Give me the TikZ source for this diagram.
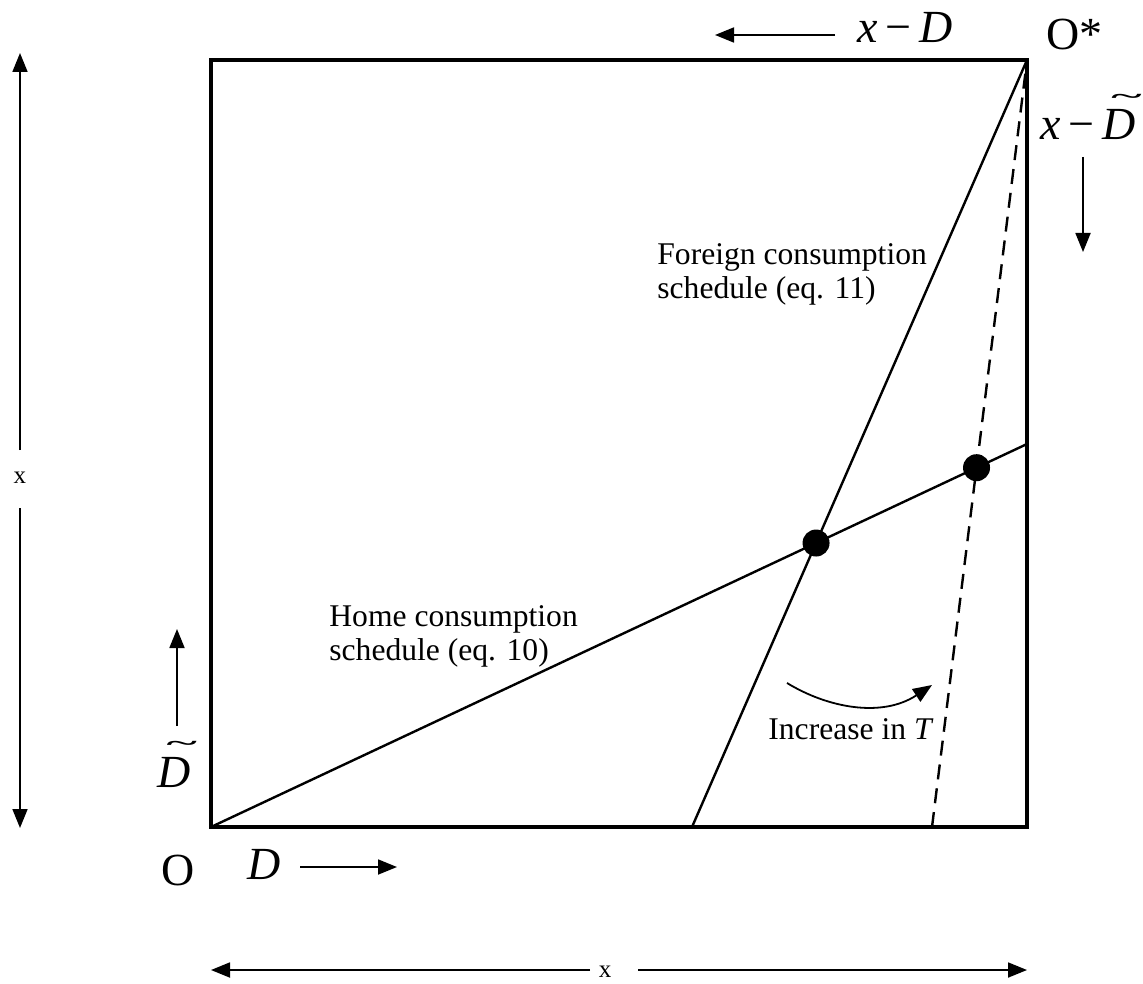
\documentclass[tikz,border=0pt]{standalone}
\usepackage{fontspec}
\usepackage{graphicx}
\setmainfont{Liberation Serif}
\usetikzlibrary{arrows.meta,intersections}
\newcommand{\Dtil}{\leavevmode\rlap{\kern0.2em\raisebox{0.80em}{\resizebox{0.66em}{0.2em}{\bfseries\char"7E}}}{\itshape D}}
\begin{document}
\begin{tikzpicture}[x=0.5pt,y=-0.5pt,
  boxline/.style={line width=1.6pt},
  schedline/.style={line width=1.2pt},
  shiftline/.style={line width=1.2pt,dash pattern=on 7.5pt off 4.5pt},
  pointer/.style={line width=0.9pt,-{Triangle[length=9.5pt,width=7.5pt]}},
  dot/.style={circle,fill=black,inner sep=0pt,minimum size=13.5pt},
  bodytext/.style={inner sep=0pt,anchor=base west,font=\fontsize{15.8}{17}\selectfont},
  mathtext/.style={inner sep=0pt,anchor=base west,font=\fontsize{23}{25}\selectfont},
  origtext/.style={inner sep=0pt,anchor=base west,font=\fontsize{23}{25}\selectfont},
  smalltext/.style={inner sep=0pt,font=\fontsize{12.5}{13}\selectfont}]
\useasboundingbox (0,0) rectangle (1143,983);
% corners
\coordinate (O) at (211,827);
\coordinate (BR) at (1027,827);
\coordinate (Os) at (1027,60);
\coordinate (TL) at (211,60);
\coordinate (Hend) at (1027,444);
\coordinate (Fstart) at (692,827);
\coordinate (Nstart) at (932,827);
% box
\draw[boxline] (O) -- (BR) -- (Os) -- (TL) -- cycle;
% schedules
\draw[schedline,name path=home] (O) -- (Hend);
\draw[schedline,name path=foreign] (Fstart) -- (Os);
\draw[shiftline,name path=newf] (Nstart) -- (Os);
\path[name intersections={of=home and foreign,by=E1}];
\path[name intersections={of=home and newf,by=E2}];
\node[dot] (e1) at (E1) {};
\node[dot] (e2) at (E2) {};
% text labels
\node[bodytext] (f1) at (657,265) {Foreign consumption};
\node[bodytext] (f2) at (657,299) {schedule (eq. 11)};
\node[bodytext] (h1) at (329,626) {Home consumption};
\node[bodytext] (h2) at (329,660) {schedule (eq. 10)};
\node[bodytext] (inc) at (768,739) {Increase in {\itshape T}};
% curved arrow
\coordinate (c1) at (787,683);
\coordinate (c2) at (932,685);
\draw[pointer] (c1) .. controls (828,708) and (882,718) .. (c2);
% top labels
\node[mathtext] (xD) at (857,43) {{\itshape x}\,−\,{\itshape D}};
\coordinate (ta1) at (835,35);
\coordinate (ta2) at (715,35);
\draw[pointer] (ta1) -- (ta2);
\node[origtext] (ostar) at (1046,50) {O*};
\node[mathtext] (xDt) at (1040,140) {{\itshape x}\,−\,\Dtil};
\coordinate (da1) at (1083,157);
\coordinate (da2) at (1083,252);
\draw[pointer] (da1) -- (da2);
% bottom-left labels
\node[mathtext] (Dt) at (157,787) {\Dtil};
\coordinate (ua1) at (177,726);
\coordinate (ua2) at (177,629);
\draw[pointer] (ua1) -- (ua2);
\node[origtext] (olab) at (161,885) {O};
\node[mathtext] (Dlab) at (247,879) {{\itshape D}};
\coordinate (ra1) at (300,867);
\coordinate (ra2) at (397,867);
\draw[pointer] (ra1) -- (ra2);
% dimension arrows
\node[smalltext] (vx) at (20,478) {x};
\coordinate (vt) at (20,53);
\coordinate (vb) at (20,828);
\coordinate (vg1) at (20,450);
\coordinate (vg2) at (20,508);
\draw[pointer] (vg1) -- (vt);
\draw[pointer] (vg2) -- (vb);
\node[smalltext] (hx) at (605,972) {x};
\coordinate (hl) at (211,970);
\coordinate (hr) at (1027,970);
\coordinate (hg1) at (590,970);
\coordinate (hg2) at (638,970);
\draw[pointer] (hg1) -- (hl);
\draw[pointer] (hg2) -- (hr);
\end{tikzpicture}
\end{document}
